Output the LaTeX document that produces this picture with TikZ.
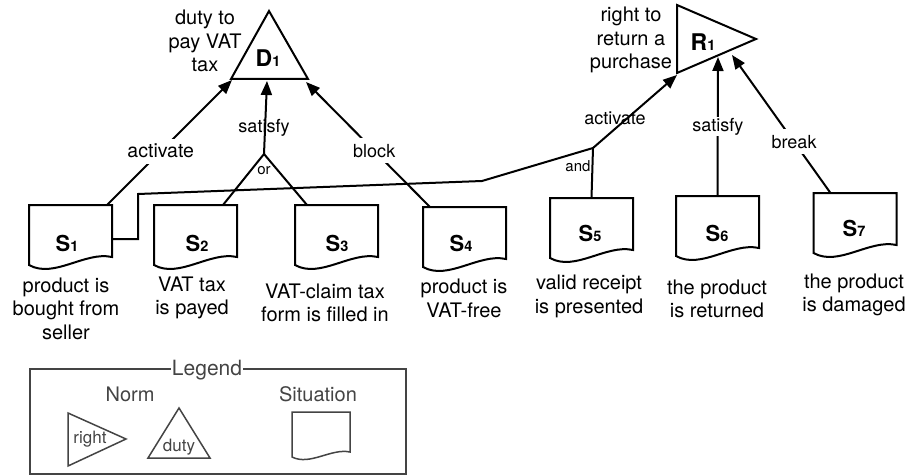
\documentclass[tikz,border=0pt]{standalone}
\usepackage{fontspec}
\setmainfont{TeX Gyre Heros}
\usetikzlibrary{arrows.meta,calc}
\definecolor{leg}{RGB}{68,68,68}
\newcommand\mysub[1]{{\fontsize{14.5}{14.5}\selectfont #1}}
\newcommand\docout[1]{%
  \draw[ln] (#1.north west) -- (#1.north east) -- ($(#1.north east)+(0,52)$)
    .. controls ($(#1.north west)+(56,46)$) and ($(#1.north west)+(25,74)$) ..
    ($(#1.north west)+(0,60)$) -- cycle;}
\tikzset{
  ln/.style={line width=2pt, line join=miter},
  arr/.style={ln, -{Triangle[length=14pt,width=11pt]}},
  sitbox/.style={anchor=north, minimum width=83pt, minimum height=65pt, inner sep=0pt, outer sep=0pt, draw=none},
  sname/.style={inner sep=0pt, font=\fontsize{22}{22}\selectfont\bfseries},
  nname/.style={inner sep=0pt, font=\fontsize{23}{23}\selectfont\bfseries},
  desc/.style={align=center, inner sep=0pt, font=\fontsize{20}{23.5}\selectfont},
  elab/.style={fill=white, inner xsep=1pt, inner ysep=0pt, minimum height=25pt, font=\fontsize{18}{18}\selectfont},
  elabn/.style={inner sep=0pt, font=\fontsize{18}{18}\selectfont},
  jlab/.style={inner sep=0pt, font=\fontsize{15}{15}\selectfont},
  legline/.style={draw=leg, line width=1.5pt, line join=miter},
  legtext/.style={text=leg, inner sep=0pt, font=\fontsize{20}{20}\selectfont},
  legsmall/.style={text=leg, inner sep=0pt, font=\fontsize{17}{17}\selectfont},
}
\begin{document}
\begin{tikzpicture}[x=1pt,y=-1pt]
\useasboundingbox[fill=white] (0,0) rectangle (910,476);

% ---- norms ----
\coordinate (D1top) at (269,11);
\coordinate (D1bl) at (231,79);
\coordinate (D1br) at (308,79);
\draw[ln] (D1top) -- (D1bl) -- (D1br) -- cycle;
\node[nname] (D1) at (268,58) {D\mysub{1}};
\node[desc] (D1d) at (205,41) {duty to\\pay VAT\\tax};
\coordinate (D1in1) at (232,80);
\coordinate (D1in2) at (267,81);
\coordinate (D1in3) at (306,82);

\coordinate (R1tl) at (677,5);
\coordinate (R1bl) at (677,73);
\coordinate (R1tip) at (756,39);
\draw[ln] (R1tl) -- (R1tip) -- (R1bl) -- cycle;
\node[nname] (R1) at (703,42) {R\mysub{1}};
\node[desc] (R1d) at (631,40) {right to\\return a\\purchase};
\coordinate (R1in1) at (677,75);
\coordinate (R1in2) at (718,57);
\coordinate (R1in3) at (732,55);

% ---- situations ----
\node[sitbox] (S1) at (70.5,205) {};
\node[sitbox] (S2) at (195.5,205) {};
\node[sitbox] (S3) at (336.5,205) {};
\node[sitbox] (S4) at (464.5,207) {};
\node[sitbox] (S5) at (591.5,198) {};
\node[sitbox] (S6) at (717.5,196) {};
\node[sitbox] (S7) at (855,193) {};
\docout{S1}\docout{S2}\docout{S3}\docout{S4}\docout{S5}\docout{S6}\docout{S7}

\node[sname] (S1t) at (67,243) {S\mysub{1}};
\node[sname] (S2t) at (197,243) {S\mysub{2}};
\node[sname] (S3t) at (337,243) {S\mysub{3}};
\node[sname] (S4t) at (461,243) {S\mysub{4}};
\node[sname] (S5t) at (590,233) {S\mysub{5}};
\node[sname] (S6t) at (717,233) {S\mysub{6}};
\node[sname] (S7t) at (854,228) {S\mysub{7}};

\node[desc] (S1d) at (66,308.5) {product is\\bought from\\seller};
\node[desc] (S2d) at (192,298) {VAT tax\\is payed};
\node[desc] (S3d) at (325,303) {VAT-claim tax\\form is filled in};
\node[desc] (S4d) at (464,298.5) {product is\\VAT-free};
\node[desc] (S5d) at (589,296.5) {valid receipt\\is presented};
\node[desc] (S6d) at (717,299) {the product\\is returned};
\node[desc] (S7d) at (854,295) {the product\\is damaged};

% ---- connectors to D1 ----
\draw[arr] ($(S1.north east)+(-5,0)$) -- node[elab,pos=0.43,font=\fontsize{19.5}{19.5}\selectfont] (lact1) {activate} (D1in1);
\coordinate (or) at (264,154);
\draw[ln] ($(S2.north east)+(-14,0)$) -- (or) -- ($(S3.north west)+(12,0)$);
\draw[arr] (or) -- (D1in2);
\node[elabn] (lsat1) at (264,128) {satisfy};
\node[jlab] (lor) at (264,171) {or};
\draw[arr] ($(S4.north west)+(7,0)$) -- node[elab,pos=0.45] (lblk) {block} (D1in3);

% ---- connectors to R1 ----
\coordinate (k2) at (138,194);
\coordinate (k3) at (482,181);
\coordinate (and) at (593,148);
\draw[ln] ($(S1.north east)+(0,34)$) -| (k2) -- (k3) -- (and);
\draw[ln] (S5.north) -- (and);
\draw[arr] (and) -- (R1in1);
\node[elabn] (lact2) at (615,118) {activate};
\node[jlab] (land) at (578,166) {and};
\draw[arr] (S6.north) -- node[elab,minimum height=19pt,pos=0.5] (lsat2) {satisfy} (R1in2);
\draw[arr] ($(S7.north west)+(17,0)$) -- node[elab,pos=0.37] (lbrk) {break} (R1in3);

% ---- legend ----
\node[legline, minimum width=376pt, minimum height=105pt, inner sep=0pt, anchor=north west] (leg) at (29,368) {};
\node[legtext, fill=white, inner xsep=1pt, font=\fontsize{21}{21}\selectfont] (legt) at (207,370) {Legend};
\node[legtext] (norm) at (130,394) {Norm};
\node[legtext] (sit) at (318,394) {Situation};
\coordinate (lr1) at (68,413);
\coordinate (lr2) at (68,466);
\coordinate (lr3) at (126,439);
\draw[legline] (lr1) -- (lr3) -- (lr2) -- cycle;
\node[legsmall] (lright) at (90,439) {right};
\coordinate (ld1) at (179,408);
\coordinate (ld2) at (148,458);
\coordinate (ld3) at (210,458);
\draw[legline] (ld1) -- (ld2) -- (ld3) -- cycle;
\node[legsmall] (lduty) at (179,447) {duty};
\draw[legline] (292,412) -- (350,412) -- (350,452)
  .. controls (331,448) and (310,466) .. (292,457) -- cycle;
\end{tikzpicture}
\end{document}
